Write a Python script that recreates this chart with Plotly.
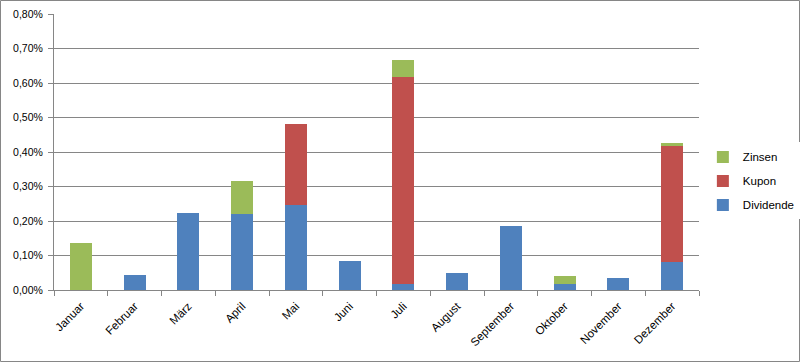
import plotly.graph_objects as go

months = ["Januar", "Februar", "März", "April", "Mai", "Juni", "Juli",
          "August", "September", "Oktober", "November", "Dezember"]
dividende = [0.0, 0.044, 0.223, 0.220, 0.246, 0.084, 0.018, 0.049, 0.186, 0.017, 0.035, 0.081]
kupon     = [0.0, 0.0, 0.0, 0.0, 0.235, 0.0, 0.599, 0.0, 0.0, 0.0, 0.0, 0.336]
zinsen    = [0.136, 0.0, 0.0, 0.096, 0.0, 0.0, 0.050, 0.0, 0.0, 0.024, 0.0, 0.009]
y_ticks = [0.0, 0.1, 0.2, 0.3, 0.4, 0.5, 0.6, 0.7, 0.8]
y_labels = ["0,00%", "0,10%", "0,20%", "0,30%", "0,40%", "0,50%", "0,60%", "0,70%", "0,80%"]

fig = go.Figure()
for name, vals, col, rank in [("Dividende", dividende, "#4F81BD", 3),
                              ("Kupon", kupon, "#C0504D", 2),
                              ("Zinsen", zinsen, "#9BBB59", 1)]:
    fig.add_trace(go.Bar(x=months, y=vals, name=name, marker_color=col,
                         marker_line_width=0, legendgroup=name, legendrank=rank))

W, H = 800, 362
L, R, T, B = 54, 101, 14, 72
pw, ph = W - L - R, H - T - B

fig.update_layout(
    width=W, height=H, barmode="stack", bargap=0.59,
    margin=dict(l=L, r=R, t=T, b=B, pad=0, autoexpand=False),
    paper_bgcolor="white", plot_bgcolor="white",
    font=dict(family="Liberation Sans", size=11, color="black"),
    legend=dict(x=1.006, xanchor="left", y=0.395, yanchor="middle",
                traceorder="grouped",
                font=dict(size=11.5), tracegroupgap=5, itemwidth=30),
    xaxis=dict(tickangle=-45, showline=True, linecolor="#868686", automargin=False,
               tickfont=dict(size=11.5), ticklabelstandoff=4,
               ticks="outside", tickson="boundaries", ticklen=5, tickcolor="#868686",
               showgrid=False, range=[-0.5, 11.5]),
    yaxis=dict(range=[0, 0.8], tickvals=y_ticks, ticktext=y_labels, automargin=False,
               tickfont=dict(size=10.5), ticklabelstandoff=3,
               showline=True, linecolor="#868686", ticks="outside", ticklen=5,
               tickcolor="#868686", gridcolor="#868686", gridwidth=1, zeroline=False),
    shapes=[dict(type="rect", xref="paper", yref="paper",
                 x0=(0.5 - L) / pw, x1=(W - 0.5 - L) / pw,
                 y0=(T + ph - (H - 0.5)) / ph,
                 y1=(T + ph - 0.5) / ph,
                 line=dict(color="#868686", width=1))],
)
fig.write_html("out.html", config={"displayModeBar": False},
               post_script="document.body.style.margin='0';document.body.style.overflow='hidden';")
